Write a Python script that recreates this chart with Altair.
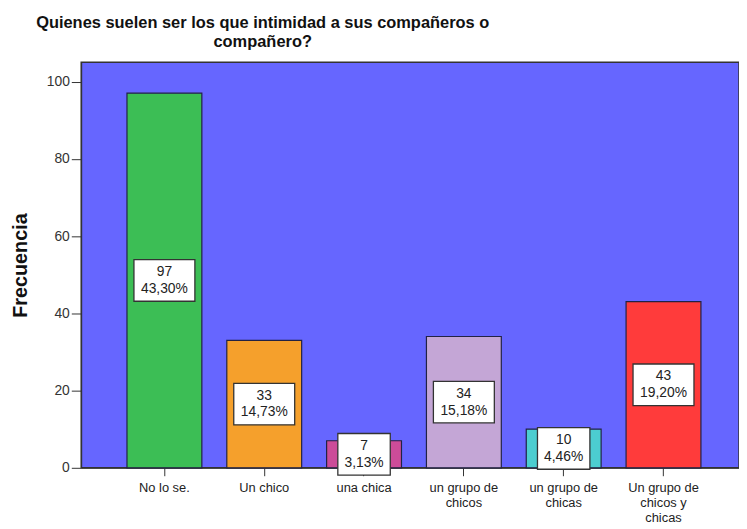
import altair as alt
import pandas as pd

categories = ["No lo se.", "Un chico", "una chica", "un grupo de chicos",
              "un grupo de chicas", "Un grupo de chicos y chicas"]
tick_labels = [["No lo se."], ["Un chico"], ["una chica"], ["un grupo de", "chicos"],
               ["un grupo de", "chicas"], ["Un grupo de", "chicos y", "chicas"]]
counts = [97, 33, 7, 34, 10, 43]
percents = ["43,30%", "14,73%", "3,13%", "15,18%", "4,46%", "19,20%"]
colors = ["#3CBE55", "#F5A02C", "#CC4C99", "#C4A6D6", "#4CCDD0", "#FF3B3B"]

df = pd.DataFrame({
    "cat": categories,
    "count": counts,
    "pct": percents,
})
df["half"] = df["count"] / 2
df["label"] = df["count"].astype(str) + "\n" + df["pct"]
df["boxw"] = df["pct"].str.len() * 8.6 + 10

label_expr = "{" + ",".join(
    f"'{c}': {tl!r}" for c, tl in zip(categories, tick_labels)
).replace("'", '"') + "}[datum.value]"

xscale = alt.Scale(domain=categories, paddingInner=0.25, paddingOuter=0.42, align=0.546)
x = alt.X("cat:N", scale=xscale, sort=categories,
          axis=alt.Axis(title=None, labelAngle=0, labelExpr=label_expr,
                        labelFont="Liberation Sans", labelFontSize=13,
                        labelColor="#222", labelLineHeight=15, labelPadding=6,
                        tickSize=8, tickColor="#333", domainColor="#333",
                        domain=True, labelBaseline="top"))
yscale = alt.Scale(domain=[0, 105], nice=False)

bars = alt.Chart(df).mark_bar(stroke="#222244", strokeWidth=1.2).encode(
    x=x,
    y=alt.Y("count:Q", scale=yscale,
            axis=alt.Axis(title="Frecuencia", values=[0, 20, 40, 60, 80, 100],
                          grid=False, labelFont="Liberation Sans", labelFontSize=14,
                          labelColor="#333", tickSize=10, tickColor="#333",
                          domainColor="#333", labelPadding=2,
                          titleFont="Liberation Sans", titleFontSize=20,
                          titleFontWeight="bold", titleColor="#111", titlePadding=16)),
    color=alt.Color("cat:N", scale=alt.Scale(domain=categories, range=colors), legend=None),
)

boxes = alt.Chart(df).mark_bar(fill="white", stroke="#333", strokeWidth=1.3,
                               yOffset=-21, y2Offset=21).encode(
    x=alt.X("cat:N", scale=xscale, sort=categories),
    y=alt.Y("half:Q", scale=yscale),
    y2="half:Q",
    size=alt.Size("boxw:Q", scale=None, legend=None),
)

texts = alt.Chart(df).mark_text(font="Liberation Sans", fontSize=14, color="#222",
                                lineBreak="\n", lineHeight=17, baseline="middle",
                                dy=-8.5).encode(
    x=alt.X("cat:N", scale=xscale, sort=categories, bandPosition=0.5),
    y=alt.Y("half:Q", scale=yscale),
    text="label:N",
)

chart = alt.layer(bars, boxes, texts).properties(
    width=665, height=410,
    autosize=alt.AutoSizeParams(type="none"),
    padding={"left": 74, "top": 52, "right": 0, "bottom": 56},
    title=alt.TitleParams(
        text=["Quienes suelen ser los que intimidad a sus compañeros o", "compañero?"],
        font="Liberation Sans", fontSize=16.6, fontWeight="bold", color="#111",
        anchor="middle", dx=-149, offset=12, lineHeight=19,
    ),
).configure(background="white").configure_view(fill="#6666FF", stroke="#333", strokeWidth=1.5)

chart.save("out.html", embed_options={"renderer": "svg", "actions": False})
